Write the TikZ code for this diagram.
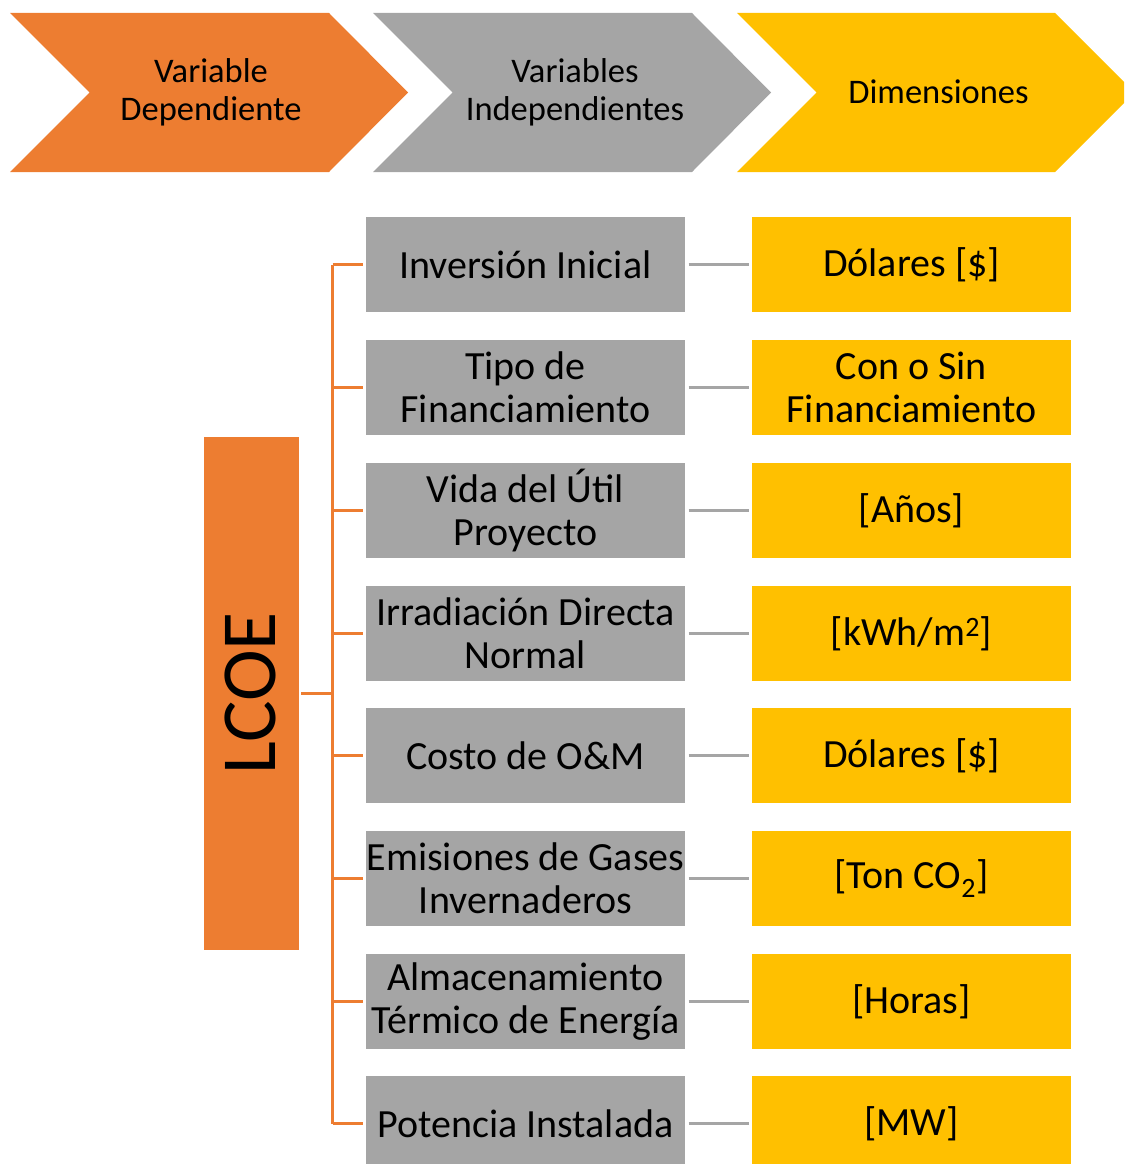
\documentclass[tikz,border=0pt]{standalone}
\usepackage{fontspec}
\setmainfont{Carlito}
\definecolor{corange}{HTML}{ED7D31}
\definecolor{cgray}{HTML}{A5A5A5}
\definecolor{cyellow}{HTML}{FFC000}
\begin{document}
\begin{tikzpicture}[x=1pt,y=-1pt,
  headtext/.style={align=center,font=\fontsize{34.5}{38}\selectfont,inner sep=0pt},
  varbox/.style={fill=cgray,minimum width=319pt,minimum height=95pt,inner sep=0pt,align=center,font=\fontsize{40}{43}\selectfont},
  dimbox/.style={fill=cyellow,minimum width=319pt,minimum height=95pt,inner sep=0pt,align=center,font=\fontsize{40}{43}\selectfont},
  treeline/.style={draw=corange,line width=3pt},
  linkline/.style={draw=cgray,line width=2.5pt}]
\useasboundingbox (0,0) rectangle (1124,1164);
% chevrons
\fill[corange] (10,13) -- (329,13) -- (408,92.5) -- (329,172) -- (10,172) -- (89.5,92.5) -- cycle;
\fill[cgray] (373,13) -- (692,13) -- (771,92.5) -- (692,172) -- (373,172) -- (452.5,92.5) -- cycle;
\fill[cyellow] (737,13) -- (1055,13) -- (1124,82) -- (1124,103) -- (1055,172) -- (737,172) -- (816.5,92.5) -- cycle;
\node[headtext] (h1) at (211,92) {Variable\\Dependiente};
\node[headtext] (h2) at (575,92) {Variables\\Independientes};
\node[headtext] (h3) at (938.5,92) {Dimensiones};
% LCOE
\node[fill=corange,minimum width=95pt,minimum height=513pt,inner sep=0pt] (lcoe) at (251.5,693.5) {};
\node[rotate=90,font=\fontsize{78}{84}\selectfont,inner sep=0pt] (lcoetext) at (250.5,693.5) {LCOE};
% rows
\node[varbox] (g1) at (525.5,264.5) {Inversión Inicial};
\node[varbox] (g2) at (525.5,387.5) {Tipo de\\Financiamiento};
\node[varbox] (g3) at (525.5,510.5) {Vida del Útil\\Proyecto};
\node[varbox] (g4) at (525.5,633.5) {Irradiación Directa\\Normal};
\node[varbox] (g5) at (525.5,755.5) {Costo de O\&M};
\node[varbox] (g6) at (525.5,878.5) {Emisiones de Gases\\Invernaderos};
\node[varbox] (g7) at (525.5,1001.5) {Almacenamiento\\Térmico de Energía};
\node[varbox] (g8) at (525.5,1123.5) {Potencia Instalada};
\node[dimbox] (y1) at (911.5,264.5) {Dólares [\$]};
\node[dimbox] (y2) at (911.5,387.5) {Con o Sin\\Financiamiento};
\node[dimbox] (y3) at (911.5,510.5) {[Años]};
\node[dimbox] (y4) at (911.5,633.5) {[kWh/m\textsuperscript{2}]};
\node[dimbox] (y5) at (911.5,755.5) {Dólares [\$]};
\node[dimbox] (y6) at (911.5,878.5) {[Ton CO\textsubscript{2}]};
\node[dimbox] (y7) at (911.5,1001.5) {[Horas]};
\node[dimbox] (y8) at (911.5,1123.5) {[MW]};
% tree
\coordinate (top) at (332.5,264.5);
\coordinate (bot) at (332.5,1123.5);
\coordinate (mid) at (332.5,693.5);
\draw[treeline] (top) -- (bot);
\draw[treeline,shorten <=2pt] (lcoe.east) -- (mid);
\foreach \i in {1,...,8} {
  \draw[treeline,shorten >=3pt] (top |- g\i) -- (g\i.west);
  \draw[linkline,shorten <=3.5pt,shorten >=3pt] (g\i.east) -- (y\i.west);
}
\end{tikzpicture}
\end{document}
